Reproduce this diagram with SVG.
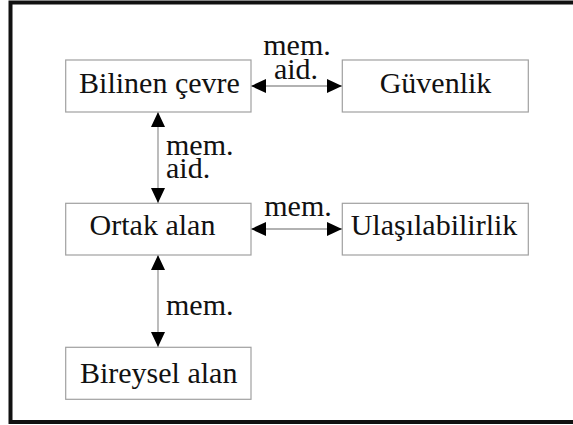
<svg xmlns="http://www.w3.org/2000/svg" width="573" height="425" viewBox="0 0 573 425">
<style>
.box{fill:#fff;stroke:#a0a0a0;stroke-width:1.2}
.t{font-family:"Liberation Serif","Times New Roman",serif;font-size:30px;fill:#111}
.c{text-anchor:middle}
.e{stroke:#999;stroke-width:1.3;fill:none;marker-start:url(#ah);marker-end:url(#ah)}
</style>
<defs>
<marker id="ah" viewBox="0 0 15 14" refX="15" refY="7" markerWidth="15" markerHeight="14" markerUnits="userSpaceOnUse" orient="auto-start-reverse">
<path d="M0,0 L15,7 L0,14 Z" fill="#000"/>
</marker>
</defs>
<rect width="573" height="425" fill="#fff"/>
<path d="M580,2.5 H10.5 V422 H580" fill="none" stroke="#111" stroke-width="4"/>
<g id="connectors">
<line class="e" x1="251" y1="86" x2="342" y2="86"/>
<line class="e" x1="251" y1="229" x2="342" y2="229"/>
<line class="e" x1="158" y1="112" x2="158" y2="203"/>
<line class="e" x1="158" y1="255" x2="158" y2="347"/>
<text class="t c" x="297" y="55">mem.</text>
<text class="t c" x="296" y="79">aid.</text>
<text class="t c" x="298" y="216">mem.</text>
<text class="t" x="166" y="155">mem.</text>
<text class="t" x="166" y="178">aid.</text>
<text class="t" x="166" y="315">mem.</text>
</g>
<g id="bilinen"><rect class="box" x="65.7" y="60" width="185.3" height="52"/><text class="t c" x="159.5" y="93">Bilinen çevre</text></g>
<g id="guvenlik"><rect class="box" x="342.3" y="60" width="186" height="52"/><text class="t c" x="435.5" y="93">Güvenlik</text></g>
<g id="ortak"><rect class="box" x="65.7" y="203.3" width="185.3" height="51.7"/><text class="t c" x="152.5" y="235">Ortak alan</text></g>
<g id="ulasilabilirlik"><rect class="box" x="342.3" y="203.3" width="186" height="51.7"/><text class="t c" x="434" y="235">Ulaşılabilirlik</text></g>
<g id="bireysel"><rect class="box" x="65.7" y="347.3" width="185.3" height="52"/><text class="t c" x="158.7" y="383">Bireysel alan</text></g>
</svg>
